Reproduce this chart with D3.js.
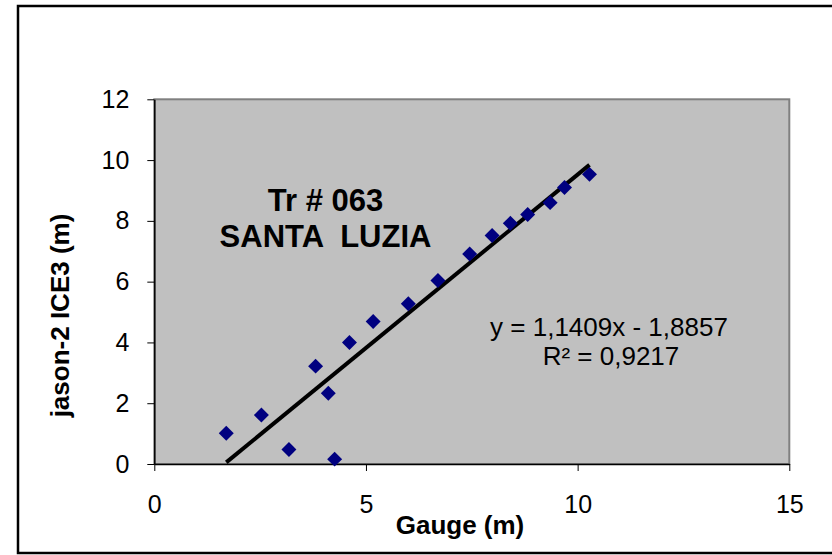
<!DOCTYPE html>
<html>
<head>
<meta charset="utf-8">
<script src="https://cdn.jsdelivr.net/npm/d3@7"></script>
<style>
  body { margin: 0; background: #fff; }
  svg { display: block; font-family: "Liberation Sans", Arial, sans-serif; }
  .tick text { font-size: 25px; fill: #000; }
</style>
</head>
<body>
<div id="chart"></div>
<script>
// gauge readings (m) and jason-2 ICE3 heights (m)
var gauge = [1.70, 2.53, 3.18, 3.81, 4.11, 4.26, 4.61, 5.17, 6.00, 6.70, 7.45, 7.98, 8.41, 8.82, 9.35, 9.69, 10.28];
var jason = [1.01, 1.61, 0.48, 3.22, 2.33, 0.16, 4.00, 4.69, 5.27, 6.04, 6.91, 7.52, 7.92, 8.21, 8.60, 9.10, 9.53];

var xTicks = [0, 5, 10, 15];
var yTicks = [0, 2, 4, 6, 8, 10, 12];

// linear trend from the chart
var slope = 1.1409;
var intercept = -1.8857;
var equationText = "y = 1,1409x - 1,8857";
var r2Text = "R\u00b2 = 0,9217";
var titleLines = ["Tr # 063", "SANTA  LUZIA"];

var svgWidth = 832;
var svgHeight = 555;

var margin = { top: 99.3, right: 42.7, bottom: 91, left: 154.3 };
var width = svgWidth - margin.left - margin.right;
var height = svgHeight - margin.top - margin.bottom;

var svg = d3.select("#chart")
  .append("svg")
  .attr("width", svgWidth)
  .attr("height", svgHeight);

// outer chart frame
svg.append("rect")
  .attr("x", 18)
  .attr("y", 6)
  .attr("width", 830)
  .attr("height", 547)
  .attr("fill", "#fff")
  .attr("stroke", "#000")
  .attr("stroke-width", 2.5);

var chartGroup = svg.append("g")
  .attr("transform", `translate(${margin.left}, ${margin.top})`);

var xScale = d3.scaleLinear().domain([0, 15]).range([0, width]);
var yScale = d3.scaleLinear().domain([0, 12]).range([height, 0]);

// plot area
chartGroup.append("rect")
  .attr("width", width)
  .attr("height", height)
  .attr("fill", "#c0c0c0")
  .attr("stroke", "#808080")
  .attr("stroke-width", 2);

var bottomAxis = d3.axisBottom(xScale)
  .tickValues(xTicks)
  .tickSizeInner(7)
  .tickSizeOuter(0)
  .tickPadding(24)
  .tickFormat(d3.format("d"));

var leftAxis = d3.axisLeft(yScale)
  .tickValues(yTicks)
  .tickSizeInner(7)
  .tickSizeOuter(0)
  .tickPadding(18)
  .tickFormat(d3.format("d"));

var xAxis = chartGroup.append("g")
  .attr("transform", `translate(0, ${height})`)
  .call(bottomAxis);

var yAxis = chartGroup.append("g")
  .call(leftAxis);

[xAxis, yAxis].forEach(function(ax) {
  ax.attr("font-family", null).attr("font-size", null);
  ax.select(".domain").attr("stroke", "#000").attr("stroke-width", 1.5);
  ax.selectAll(".tick line").attr("stroke", "#000").attr("stroke-width", 1);
});

// trend line over the data range
var xMin = d3.min(gauge);
var xMax = d3.max(gauge);
var trend = [[xMin, slope * xMin + intercept], [xMax, slope * xMax + intercept]];

chartGroup.append("path")
  .datum(trend)
  .attr("fill", "none")
  .attr("stroke", "#000")
  .attr("stroke-width", 4)
  .attr("d", d3.line().x(d => xScale(d[0])).y(d => yScale(d[1])));

// diamond markers
var points = gauge.map(function(g, i) { return { x: g, y: jason[i] }; });

chartGroup.selectAll(".pt")
  .data(points)
  .enter()
  .append("path")
  .attr("class", "pt")
  .attr("d", d3.symbol().type(d3.symbolSquare).size(112))
  .attr("transform", d => `translate(${xScale(d.x)}, ${yScale(d.y)}) rotate(45)`)
  .attr("fill", "#000080");

// title inside plot
svg.append("text")
  .attr("x", 325.5)
  .attr("y", 210.5)
  .attr("text-anchor", "middle")
  .style("font-size", "31px")
  .style("font-weight", "bold")
  .text(titleLines[0]);

svg.append("text")
  .attr("x", 325.5)
  .attr("y", 246.5)
  .attr("text-anchor", "middle")
  .style("font-size", "31px")
  .style("font-weight", "bold")
  .style("white-space", "pre")
  .text(titleLines[1]);

// trend equation
svg.append("text")
  .attr("x", 609)
  .attr("y", 336)
  .attr("text-anchor", "middle")
  .style("font-size", "26px")
  .text(equationText);

svg.append("text")
  .attr("x", 611)
  .attr("y", 365)
  .attr("text-anchor", "middle")
  .style("font-size", "26px")
  .text(r2Text);

// axis titles
svg.append("text")
  .attr("x", 460)
  .attr("y", 534)
  .attr("text-anchor", "middle")
  .style("font-size", "26px")
  .style("font-weight", "bold")
  .text("Gauge (m)");

svg.append("text")
  .attr("transform", "translate(69, 315.5) rotate(-90)")
  .attr("text-anchor", "middle")
  .style("font-size", "26px")
  .style("font-weight", "bold")
  .text("jason-2 ICE3 (m)");
</script>
</body>
</html>
